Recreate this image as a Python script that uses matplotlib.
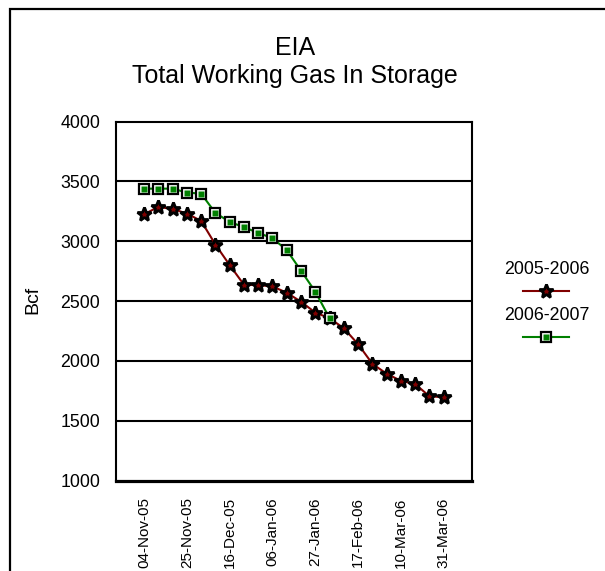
import matplotlib
matplotlib.use("Agg")
import matplotlib.pyplot as plt
from matplotlib.lines import Line2D
from matplotlib.patches import Rectangle
import numpy as np

plt.rcParams['font.family'] = ['Liberation Sans', 'DejaVu Sans']

week_labels = ["04-Nov-05", "11-Nov-05", "18-Nov-05", "25-Nov-05", "02-Dec-05", "09-Dec-05",
               "16-Dec-05", "23-Dec-05", "30-Dec-05", "06-Jan-06", "13-Jan-06", "20-Jan-06",
               "27-Jan-06", "03-Feb-06", "10-Feb-06", "17-Feb-06", "24-Feb-06", "03-Mar-06",
               "10-Mar-06", "17-Mar-06", "24-Mar-06", "31-Mar-06"]
series_names = ["2005-2006", "2006-2007"]
storage_0506 = [3225, 3286, 3269, 3231, 3169, 2972, 2800, 2636, 2633, 2622, 2569,
                2494, 2403, 2356, 2272, 2139, 1975, 1892, 1833, 1806, 1703, 1697]
storage_0607 = [3439, 3439, 3439, 3406, 3397, 3236, 3161, 3117, 3069, 3025, 2925,
                2753, 2578, 2356]
y_ticks = [1000, 1500, 2000, 2500, 3000, 3500, 4000]

W, H = 605, 571
fig = plt.figure(figsize=(W / 100, H / 100), dpi=100)

def fx(px):
    return px / W

def fy(py):
    return 1 - py / H

# outer chart border (extends past right/bottom edges)
fig.add_artist(Rectangle((fx(10), fy(H + 20)), fx(W + 20), fy(9) - fy(H + 20),
                         transform=fig.transFigure, fill=False, ec='black', lw=1.6))

left, right, top, bottom = 115.5, 472.3, 121.5, 480.5
ax = fig.add_axes([fx(left), fy(bottom), fx(right - left), fy(top) - fy(bottom)])

red = '#800000'
green = '#008000'
x_red = np.arange(len(storage_0506))
x_green = np.arange(len(storage_0607))

star_kw = dict(ls='none', marker='*', ms=10.5, mfc=red, mec='black', mew=2.0)
sq_out_kw = dict(ls='none', marker='s', ms=6.8, mfc='white', mec='black', mew=1.6)
sq_in_kw = dict(ls='none', marker='s', ms=3.7, mfc=green, mec='none')

ax.plot(x_red, storage_0506, color=red, lw=1.5, zorder=3)
ax.plot(x_red, storage_0506, zorder=4, **star_kw)

ax.plot(x_green, storage_0607, color=green, lw=1.5, zorder=3)
ax.plot(x_green, storage_0607, zorder=4, **sq_out_kw)
ax.plot(x_green, storage_0607, zorder=5, **sq_in_kw)

ax.set_xlim(-2, 23)
ax.set_ylim(1000, 4000)
ax.set_yticks(y_ticks)
ax.set_yticklabels([str(v) for v in y_ticks], fontsize=12.8)
ax.set_xticks(x_red[::3])
ax.set_xticklabels(week_labels[::3], rotation=90, fontsize=11)
ax.tick_params(axis='both', length=0)
ax.tick_params(axis='y', pad=11)
ax.tick_params(axis='x', pad=12)

for v in y_ticks[1:-1]:
    ax.axhline(v, color='black', lw=1.5, zorder=1)
for s in ['left', 'right', 'top']:
    ax.spines[s].set_linewidth(1.5)
ax.spines['bottom'].set_linewidth(2.3)

fig.text(fx(33), fy(300), "Bcf", rotation=90, fontsize=14, ha='center', va='center')
fig.text(fx(295), fy(48), "EIA", fontsize=18, ha='center', va='center')
fig.text(fx(295), fy(76), "Total Working Gas In Storage", fontsize=18, ha='center', va='center')

# legend
fig.text(fx(547), fy(269), series_names[0], fontsize=12.8, ha='center', va='center')
fig.add_artist(Line2D([fx(523), fx(569)], [fy(291), fy(291)], color=red, lw=1.5, transform=fig.transFigure))
fig.add_artist(Line2D([fx(546)], [fy(291)], transform=fig.transFigure, **star_kw))
fig.text(fx(547), fy(316), series_names[1], fontsize=12.8, ha='center', va='center')
fig.add_artist(Line2D([fx(523), fx(569)], [fy(337), fy(337)], color=green, lw=1.5, transform=fig.transFigure))
fig.add_artist(Line2D([fx(546)], [fy(337)], transform=fig.transFigure, **sq_out_kw))
fig.add_artist(Line2D([fx(546)], [fy(337)], transform=fig.transFigure, **sq_in_kw))

fig.savefig("out.png", dpi=100)
